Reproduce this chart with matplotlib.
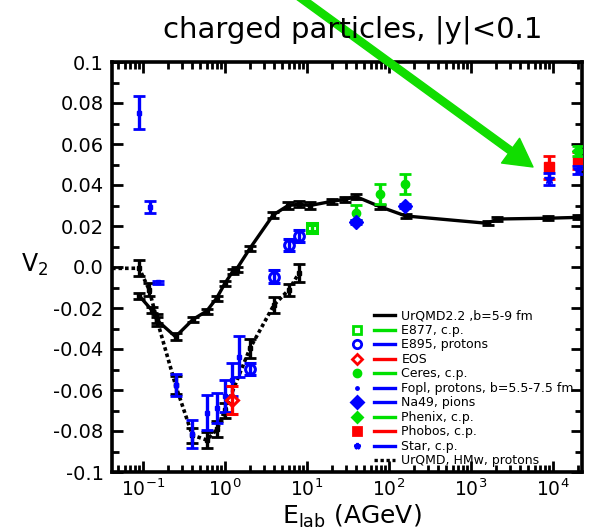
import numpy as np
import matplotlib
matplotlib.use("Agg")
import matplotlib.pyplot as plt
from matplotlib.lines import Line2D
from matplotlib.legend_handler import HandlerTuple

plt.rcParams['axes.unicode_minus'] = False
plt.rcParams['font.family'] = ['DejaVu Sans']

GREEN = '#00e000'
BLUE = '#0000ff'
RED = '#ff0000'

# UrQMD2.2, b=5-9 fm (solid line)
urqmd_e = [0.09, 0.128, 0.149, 0.25, 0.41, 0.60, 0.79, 1.0, 1.24, 1.39, 2.02, 3.88,
           5.9, 8.0, 10.9, 20, 29, 40, 78, 160, 1600, 2050, 8700, 20000]
urqmd_v2 = [-0.014, -0.021, -0.026, -0.034, -0.0255, -0.0215, -0.0153, -0.008, -0.0023,
            -0.001, 0.0091, 0.0254, 0.030, 0.0306, 0.030, 0.032, 0.033, 0.0343, 0.0294,
            0.0249, 0.0213, 0.0234, 0.0238, 0.0242]
urqmd_err = [0.0015, 0.0015, 0.0015, 0.0016, 0.0012, 0.0012, 0.0012, 0.0012, 0.0012,
             0.0012, 0.0012, 0.0015, 0.0018, 0.0015, 0.0015, 0.0012, 0.0012, 0.0012,
             0.001, 0.001, 0.001, 0.001, 0.001, 0.001]

# UrQMD, HMw, protons (dotted line)
hmw_e = [0.035, 0.09, 0.119, 0.149, 0.25, 0.40, 0.60, 0.81, 1.0, 2.02, 3.96, 6.0, 8.05]
hmw_v2 = [-0.0007, -0.0006, -0.011, -0.026, -0.0576, -0.082, -0.0844, -0.079, -0.0698,
          -0.0397, -0.0185, -0.0112, -0.0028]
hmw_err = [0.0, 0.004, 0.0033, 0.003, 0.0045, 0.0037, 0.004, 0.004, 0.0037, 0.0045,
           0.004, 0.003, 0.0045]

# Fopl, protons, b=5.5-7.5 fm
fopl_e = [0.09, 0.122, 0.154, 0.25, 0.40, 0.60, 0.81, 1.0, 1.22, 1.49]
fopl_v2 = [0.0753, 0.0291, -0.0075, -0.0576, -0.0815, -0.071, -0.069, -0.0628, -0.055, -0.0437]
fopl_err = [0.0079, 0.003, 0.0008, 0.0055, 0.0067, 0.0085, 0.0073, 0.0077, 0.008, 0.0099]

# E895, protons
e895_e = [2.02, 3.96, 6.0, 8.0]
e895_v2 = [-0.0499, -0.0047, 0.0107, 0.0151]
e895_err = [0.003, 0.003, 0.003, 0.003]

# E877, c.p.
e877_e = [11.4]
e877_v2 = [0.0192]
e877_err = [0.0015]

# EOS
eos_e = [1.22]
eos_v2 = [-0.0649]
eos_err = [0.007]

# Ceres, c.p.
ceres_e = [40, 78, 157]
ceres_v2 = [0.0265, 0.0355, 0.0405]
ceres_err = [0.0038, 0.005, 0.005]

# Na49, pions
na49_e = [40, 158]
na49_v2 = [0.0221, 0.0298]
na49_err = [0.001, 0.001]

# Phenix, c.p.
phenix_e = [20000]
phenix_v2 = [0.0566]
phenix_err = [0.0025]

# Phobos, c.p.
phobos_e = [9000, 20000]
phobos_v2 = [0.0486, 0.0519]
phobos_err = [0.0055, 0.004]

# Star, c.p.
star_e = [9000, 20000]
star_v2 = [0.0428, 0.0473]
star_err = [0.003, 0.0019]

yticks = [-0.1, -0.08, -0.06, -0.04, -0.02, 0.0, 0.02, 0.04, 0.06, 0.08, 0.1]
ytick_labels = ['-0.1', '-0.08', '-0.06', '-0.04', '-0.02', '0.0', '0.02', '0.04', '0.06', '0.08', '0.1']
xticks = [1e-1, 1e0, 1e1, 1e2, 1e3, 1e4]
xtick_labels = ['$10^{-1}$', '$10^{0}$', '$10^{1}$', '$10^{2}$', '$10^{3}$', '$10^{4}$']

fig = plt.figure(figsize=(5.97, 5.30), dpi=100)
ax = fig.add_axes([112 / 597, 1 - 472 / 530, 470 / 597, 410 / 530])

eb = dict(capsize=4, capthick=2, elinewidth=2.4)

# models
ax.errorbar(urqmd_e, urqmd_v2, yerr=urqmd_err, color='black', lw=2.4, marker='s', ms=3.5, **eb, zorder=3)
ax.errorbar(hmw_e, hmw_v2, yerr=hmw_err, color='black', lw=2.6, ls=(0, (1, 0.8)), marker='s', ms=2.5, **eb, zorder=3)

# data
ax.errorbar(fopl_e, fopl_v2, yerr=fopl_err, color=BLUE, ls='none', marker='s', ms=2.5, **eb, zorder=4)
ax.errorbar(e895_e, e895_v2, yerr=e895_err, color=BLUE, ls='none', marker='o', ms=7,
            mfc='none', mew=2.2, **eb, zorder=4)
ax.errorbar(e877_e, e877_v2, yerr=e877_err, color=GREEN, ls='none', marker='s', ms=7,
            mfc='none', mew=2.2, **eb, zorder=4)
ax.errorbar(eos_e, eos_v2, yerr=eos_err, color=RED, ls='none', marker='D', ms=6,
            mfc='none', mew=2.2, **eb, zorder=5)
ax.errorbar(ceres_e, ceres_v2, yerr=ceres_err, color=GREEN, ls='none', marker='o', ms=6, **eb, zorder=4)
ax.errorbar(na49_e, na49_v2, yerr=na49_err, color=BLUE, ls='none', marker='D', ms=7, **eb, zorder=4)
ax.errorbar(phobos_e, phobos_v2, yerr=phobos_err, color=RED, ls='none', marker='s', ms=7, **eb, zorder=4)
ax.errorbar(star_e, star_v2, yerr=star_err, color=BLUE, ls='none', marker='*', ms=7, **eb, zorder=5)
ax.errorbar(phenix_e, phenix_v2, yerr=phenix_err, color=GREEN, ls='none', marker='D', ms=6, **eb, zorder=5)

ax.set_xscale('log')
ax.set_xlim(0.042, 22600)
ax.set_ylim(-0.1, 0.1)
ax.set_yticks(yticks)
ax.set_yticklabels(ytick_labels)
ax.set_yticks(np.arange(-0.1, 0.1001, 0.01), minor=True)
ax.set_xticks(xticks)
ax.set_xticklabels(xtick_labels)
ax.tick_params(which='both', direction='in', top=True, right=True, labelsize=14, width=2, pad=6)
ax.tick_params(axis='x', labelsize=13.5, pad=5)
ax.tick_params(which='major', length=8)
ax.tick_params(which='minor', length=5)
for s in ax.spines.values():
    s.set_linewidth(2.6)

fig.text(35 / 597, 1 - 265 / 530, 'V$_2$', fontsize=17, ha='center', va='center')
fig.text(352 / 597, 1 - 516 / 530, 'E$_{\\mathrm{lab}}$ (AGeV)', fontsize=18, ha='center', va='center')
fig.text(353 / 597, 1 - 30 / 530, 'charged particles, |y|<0.1', fontsize=21, ha='center', va='center')

# legend: marker on the left, line sample on the right
def leg(color, marker=None, ls='-', mfc=None, ms=6):
    mk = Line2D([], [], ls='none', marker=marker, color=color, ms=ms,
                mfc=mfc if mfc is not None else color, mew=2)
    ln = Line2D([], [], color=color, lw=2.4, ls=ls)
    return (mk, ln)

handles = [
    leg('black'),
    leg(GREEN, 's', mfc='none'),
    leg(BLUE, 'o', mfc='none'),
    leg(RED, 'D', mfc='none', ms=5),
    leg(GREEN, 'o', ms=5),
    leg(BLUE, '.', ms=3),
    leg(BLUE, 'D', ms=6),
    leg(GREEN, 'D', ms=5),
    leg(RED, 's', ms=6),
    leg(BLUE, '*', ms=4),
    leg('black', ls=(0, (1, 0.8))),
]
labels = ['UrQMD2.2 ,b=5-9 fm', 'E877, c.p.', 'E895, protons', 'EOS', 'Ceres, c.p.',
          'Fopl, protons, b=5.5-7.5 fm', 'Na49, pions', 'Phenix, c.p.', 'Phobos, c.p.',
          'Star, c.p.', 'UrQMD, HMw, protons']
ax.legend(handles, labels, handler_map={tuple: HandlerTuple(ndivide=None, pad=0.5)},
          loc='upper left', bbox_to_anchor=(0.50, 0.397), frameon=False, fontsize=9,
          handlelength=3.8, handleheight=0.5, handletextpad=0.55, labelspacing=0.12,
          borderpad=0, borderaxespad=0)

# green arrow
arrow = ax.annotate('', xy=(533, 530 - 167), xytext=(294, 537), xycoords='figure pixels',
                    textcoords='figure pixels', annotation_clip=False,
                    arrowprops=dict(arrowstyle='simple,head_length=1.0,head_width=1.1,tail_width=0.26',
                                    color='#11dd00', mutation_scale=20, shrinkA=0, shrinkB=0))
arrow.set_zorder(10)

fig.savefig('out.png', dpi=100)
